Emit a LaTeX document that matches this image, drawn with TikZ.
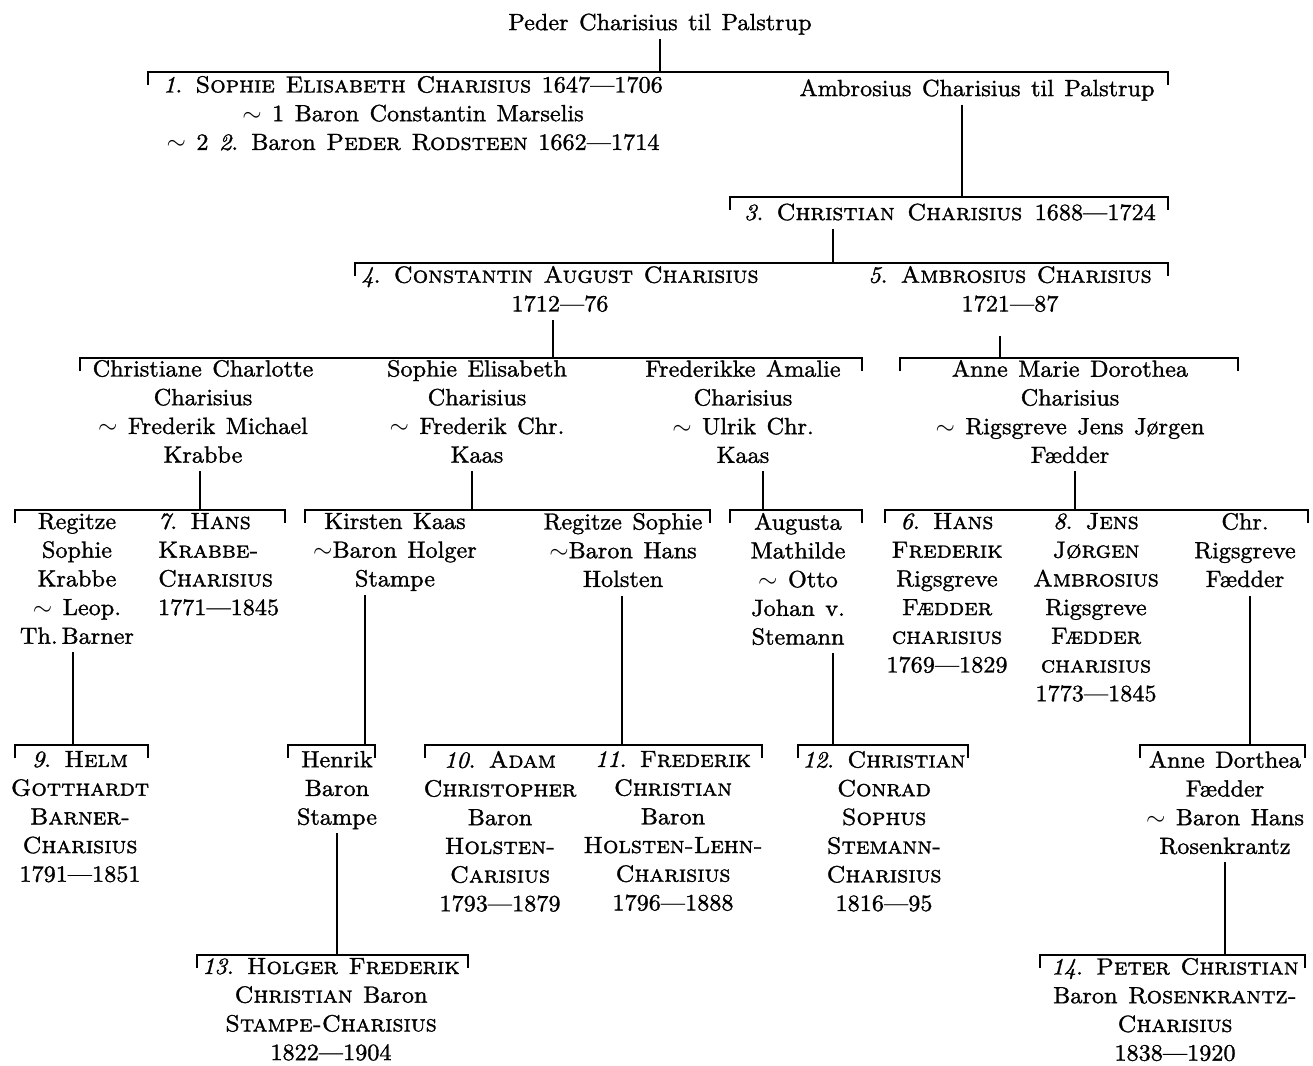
\documentclass[tikz,border=0pt]{standalone}
\DeclareFontFamily{TU}{lmx}{}
\DeclareFontShape{TU}{lmx}{m}{n}{<-> "[lmroman10-regular]:extend=1.035;embolden=1.3"}{}
\DeclareFontShape{TU}{lmx}{m}{it}{<-> "[lmroman10-italic]:extend=1.035;embolden=1.3"}{}
\DeclareFontShape{TU}{lmx}{m}{sc}{<-> "[lmromancaps10-regular]:extend=1.035;embolden=1.3"}{}
\begin{document}
\begin{tikzpicture}[x=1pt,y=-1pt,
  txt/.style={anchor=north,inner sep=0pt,outer sep=0pt,align=center,
    font=\fontfamily{lmx}\fontsize{23.4}{28.7}\selectfont,
    execute at begin node={\spaceskip=10.5pt plus 3pt minus 2pt\relax\strut}},
  ln/.style={line width=1.9pt},
  brk/.style={line width=1.9pt}]
\useasboundingbox (0,0) rectangle (1313,1065);
\newcommand\bracketline[3]{\draw[brk] (#1,#3+13) -- (#1,#3) -- (#2,#3) -- (#2,#3+13);}

% ---------- text nodes ----------
\node[txt] (peder) at (660,10) {Peder Charisius til Palstrup};
\node[txt] (n1) at (413,76) {\textit{1}. \textsc{Sophie Elisabeth Charisius} 1647—1706\\$\sim$ 1 Baron Constantin Marselis\\$\sim$ 2 \textit{2}. Baron \textsc{Peder Rodsteen} 1662—1714};
\node[txt] (amb) at (977,76) {Ambrosius Charisius til Palstrup};
\node[txt] (n3) at (950,200) {\textit{3}. \textsc{Christian}\hspace{2pt} \textsc{Charisius}\hspace{2pt} 1688—1724};
\node[txt] (n4) at (560,266) {\textit{4}. \textsc{Constantin August Charisius}\\1712—76};
\node[txt] (n5) at (1010,266) {\textit{5}. \textsc{Ambrosius Charisius}\\1721—87};

\node[txt] (cc) at (203,360) {Christiane Charlotte\\Charisius\\$\sim$ Frederik Michael\\Krabbe};
\node[txt] (se) at (477,360) {Sophie Elisabeth\\Charisius\\$\sim$ Frederik Chr.\\Kaas};
\node[txt] (fa) at (743,360) {Frederikke Amalie\\Charisius\\$\sim$ Ulrik Chr.\\Kaas};
\node[txt] (am) at (1070,360) {Anne Marie Dorothea\\Charisius\\$\sim$ Rigsgreve Jens Jørgen\\Fædder};

\node[txt] (rs) at (77,513) {Regitze\\Sophie\\Krabbe\\$\sim$ Leop.\\Th.\,Barner};
\node[txt,anchor=north west,align=left] (n7) at (158,513) {\textit{7}. \textsc{Hans}\\\textsc{Krabbe-}\\\textsc{Charisius}\\1771—1845};
\node[txt] (kk) at (395,513) {Kirsten Kaas\\$\sim$Baron Holger\\Stampe};
\node[txt] (rsh) at (623,513) {Regitze Sophie\\$\sim$Baron Hans\\Holsten};
\node[txt] (au) at (798,513) {Augusta\\Mathilde\\$\sim$ Otto\\Johan v.\\Stemann};
\node[txt] (n6) at (947,513) {\textit{6}. \textsc{Hans}\\\textsc{Frederik}\\Rigsgreve\\\textsc{Fædder}\\\textsc{charisius}\\1769—1829};
\node[txt] (n8) at (1096,513) {\textit{8}. \textsc{Jens}\\\textsc{Jørgen}\\\textsc{Ambrosius}\\Rigsgreve\\\textsc{Fædder}\\\textsc{charisius}\\1773—1845};
\node[txt] (chr) at (1245,513) {Chr.\\Rigsgreve\\Fædder};

\node[txt] (n9) at (80,751) {\textit{9}. \textsc{Helm}\\\textsc{Gotthardt}\\\textsc{Barner-}\\\textsc{Charisius}\\1791—1851};
\node[txt] (hbs) at (337,751) {Henrik\\Baron\\Stampe};
\node[txt] (n10) at (500,751) {\textit{10}. \textsc{Adam}\\\textsc{Christopher}\\Baron\\\textsc{Holsten-}\\\textsc{Carisius}\\1793—1879};
\node[txt] (n11) at (673,751) {\textit{11}. \textsc{Frederik}\\\textsc{Christian}\\Baron\\\textsc{Holsten-Lehn-}\\\textsc{Charisius}\\1796—1888};
\node[txt] (n12) at (884,751) {\textit{12}. \textsc{Christian}\\\textsc{Conrad}\\\textsc{Sophus}\\\textsc{Stemann-}\\\textsc{Charisius}\\1816—95};
\node[txt] (ad) at (1225,751) {Anne Dorthea\\Fædder\\$\sim$ Baron Hans\\Rosenkrantz};

\node[txt] (n13) at (331,958) {\textit{13}. \textsc{Holger Frederik}\\\textsc{Christian} Baron\\\textsc{Stampe-Charisius}\\1822—1904};
\node[txt] (n14) at (1175,958) {\textit{14}. \textsc{Peter Christian}\\Baron \textsc{Rosenkrantz-}\\\textsc{Charisius}\\1838—1920};

% ---------- brackets ----------
\bracketline{148}{1168}{72}
\bracketline{730}{1168}{197}
\bracketline{355}{1168}{263}
\bracketline{80}{862}{358}
\bracketline{900}{1238}{358}
\bracketline{15}{285}{510}
\bracketline{305}{710}{510}
\bracketline{730}{862}{510}
\bracketline{885}{1308}{510}
\bracketline{15}{148}{745}
\bracketline{288}{375}{745}
\bracketline{425}{762}{745}
\bracketline{798}{968}{745}
\bracketline{1140}{1305}{745}
\bracketline{197}{468}{955}
\bracketline{1040}{1305}{955}

% ---------- connector end points on the brackets ----------
\coordinate (b1) at (660,72);
\coordinate (b2) at (962,197);
\coordinate (b3) at (833,263);
\coordinate (b4) at (553,358);
\coordinate (b5) at (1000,358);
\coordinate (b6) at (200,510);
\coordinate (b7) at (472,510);
\coordinate (b8) at (763,510);
\coordinate (b9) at (1075,510);
\coordinate (b10) at (73,745);
\coordinate (b11) at (365,745);
\coordinate (b12) at (622,745);
\coordinate (b13) at (833,745);
\coordinate (b14) at (1250,745);
\coordinate (b15) at (337,955);
\coordinate (b16) at (1225,955);

% ---------- connectors ----------
\draw[ln] (peder.south -| b1) -- (b1);
\draw[ln] (amb.south -| b2) -- (b2);
\draw[ln] (n3.south -| b3) -- (b3);
\draw[ln] (n4.south -| b4) -- (b4);
\draw[ln] ([yshift=-16pt]n5.south -| b5) -- (b5);
\draw[ln] (cc.south -| b6) -- (b6);
\draw[ln] (se.south -| b7) -- (b7);
\draw[ln] (fa.south -| b8) -- (b8);
\draw[ln] (am.south -| b9) -- (b9);
\draw[ln] (rs.south -| b10) -- (b10);
\draw[ln] (kk.south -| b11) -- (b11);
\draw[ln] (rsh.south -| b12) -- (b12);
\draw[ln] (au.south -| b13) -- (b13);
\draw[ln] (chr.south -| b14) -- (b14);
\draw[ln] (hbs.south -| b15) -- (b15);
\draw[ln] (ad.south -| b16) -- (b16);
\end{tikzpicture}
\end{document}
